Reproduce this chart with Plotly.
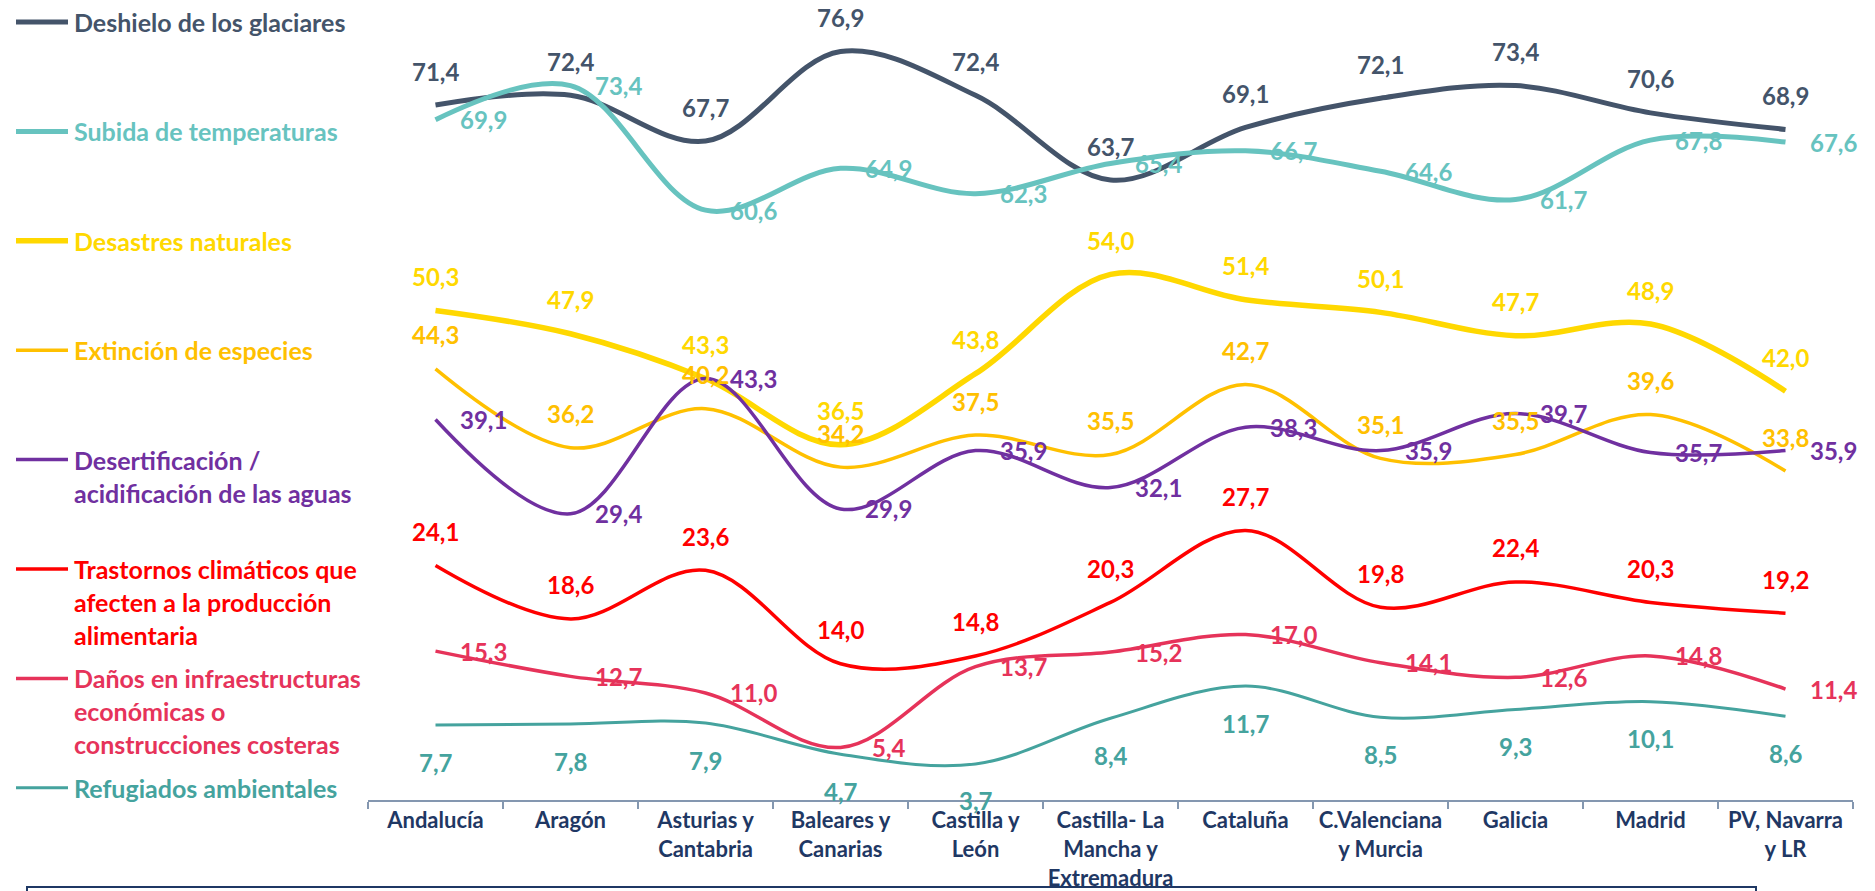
import plotly.graph_objects as go

# ---------------- data ----------------
categories = ["Andalucía", "Aragón", "Asturias y<br>Cantabria", "Baleares y<br>Canarias",
              "Castilla y<br>León", "Castilla- La<br>Mancha y<br>Extremadura", "Cataluña",
              "C.Valenciana<br>y Murcia", "Galicia", "Madrid", "PV, Navarra<br>y LR"]

deshielo = [71.4, 72.4, 67.7, 76.9, 72.4, 63.7, 69.1, 72.1, 73.4, 70.6, 68.9]
subida = [69.9, 73.4, 60.6, 64.9, 62.3, 65.4, 66.7, 64.6, 61.7, 67.8, 67.6]
desastres = [50.3, 47.9, 43.3, 36.5, 43.8, 54.0, 51.4, 50.1, 47.7, 48.9, 42.0]
extincion = [44.3, 36.2, 40.2, 34.2, 37.5, 35.5, 42.7, 35.1, 35.5, 39.6, 33.8]
desertificacion = [39.1, 29.4, 43.3, 29.9, 35.9, 32.1, 38.3, 35.9, 39.7, 35.7, 35.9]
trastornos = [24.1, 18.6, 23.6, 14.0, 14.8, 20.3, 27.7, 19.8, 22.4, 20.3, 19.2]
danos = [15.3, 12.7, 11.0, 5.4, 13.7, 15.2, 17.0, 14.1, 12.6, 14.8, 11.4]
refugiados = [7.7, 7.8, 7.9, 4.7, 3.7, 8.4, 11.7, 8.5, 9.3, 10.1, 8.6]

series_names = [
    ["Deshielo de los glaciares"],
    ["Subida de temperaturas"],
    ["Desastres naturales"],
    ["Extinción de especies"],
    ["Desertificación /", "acidificación de las aguas"],
    ["Trastornos climáticos que", "afecten a la producción", "alimentaria"],
    ["Daños en infraestructuras", "económicas o", "construcciones costeras"],
    ["Refugiados ambientales"],
]
series_values = [deshielo, subida, desastres, extincion, desertificacion,
                 trastornos, danos, refugiados]

# ---------------- styles ----------------
colors = ["#44546A", "#67C3BF", "#FFD800", "#FFC000", "#7030A0",
          "#FF0000", "#E6335A", "#45A39E"]
widths = [5, 5, 5.5, 3.5, 3.5, 3.5, 3.5, 3]
label_pos = ["above", "right", "above", "above", "right", "above", "right", "below"]

FONT = "Lato, 'Open Sans', sans-serif"
OFF = 8  # default page body margin
W, H = 1875 - 2 * OFF, 891 - OFF
L, R, T, B = 368 - OFF, 1853 - OFF, 20 - OFF, 800 - OFF


def px(xp):
    # xp in reference (window) pixels
    return (xp - OFF - L) / (R - L)


def py(yp):
    return (B - (yp - OFF)) / (B - T)


fig = go.Figure()
annotations = []
shapes = []

for i, (names, vals) in enumerate(zip(series_names, series_values)):
    fig.add_trace(go.Scatter(
        x=categories, y=vals, mode="lines",
        line=dict(color=colors[i], width=widths[i], shape="spline", smoothing=1.0),
        name=" ".join(names), showlegend=False, hoverinfo="skip"))
    for c, v in zip(categories, vals):
        pos = label_pos[i]
        xs, ys = 0, 0
        if pos == "above":
            ys = 34
        elif pos == "below":
            ys = -37
        else:
            xs = 48
        annotations.append(dict(
            x=c, y=v, xref="x", yref="y", text=f"{v:.1f}".replace(".", ","),
            showarrow=False, xshift=xs, yshift=ys, xanchor="center", yanchor="middle",
            font=dict(family=FONT, size=24, color=colors[i], weight="bold")))

    # custom legend
    ly = 22 + 109.4 * i
    shapes.append(dict(type="line", xref="paper", yref="paper",
                       x0=px(16), x1=px(68), y0=py(ly), y1=py(ly),
                       line=dict(color=colors[i], width=widths[i])))
    for k, t in enumerate(names):
        annotations.append(dict(
            x=px(72), y=py(ly + 33 * k), xref="paper", yref="paper", text=t,
            showarrow=False, xanchor="left", yanchor="middle",
            font=dict(family=FONT, size=25, color=colors[i], weight="bold")))

# bottom box border
shapes.append(dict(type="path", xref="paper", yref="paper",
                   path=f"M {px(27)} {py(895)} L {px(27)} {py(887)} L {px(1756)} {py(887)} L {px(1756)} {py(895)}",
                   line=dict(color="#1F3864", width=2)))

fig.update_layout(
    width=W, height=H,
    margin=dict(l=L, r=W - R, t=T, b=H - B, autoexpand=False),
    paper_bgcolor="white", plot_bgcolor="white",
    showlegend=False,
    annotations=annotations, shapes=shapes,
    xaxis=dict(type="category", range=[-0.5, 10.5], showgrid=False, zeroline=False,
               showline=True, linecolor="#8497B0", linewidth=2,
               ticks="outside", tickson="boundaries", ticklen=7, tickwidth=2, tickcolor="#8497B0",
               tickangle=0, automargin=False,
               tickfont=dict(family=FONT, size=22, color="#1F3864", weight="bold"),
               fixedrange=True),
    yaxis=dict(range=[0, 80.14], visible=False, fixedrange=True, automargin=False),
)

fig.write_html("out.html")
